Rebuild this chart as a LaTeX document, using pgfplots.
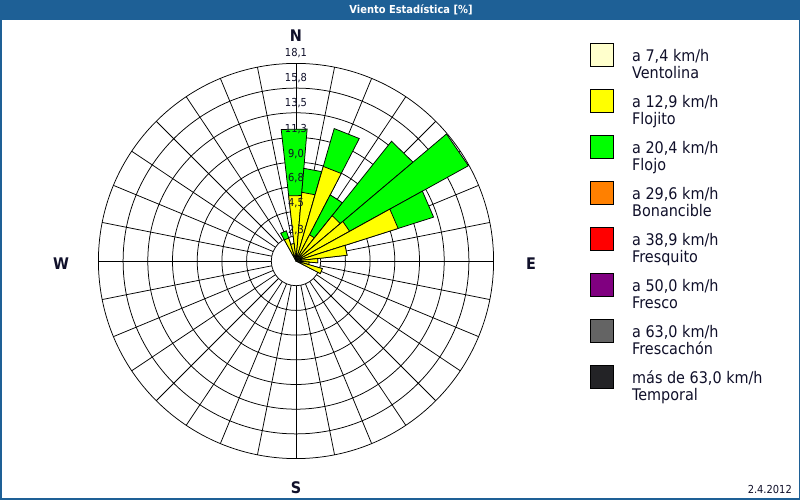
\documentclass[border=0pt]{standalone}
\usepackage{fontspec}
\setmainfont{DejaVu Sans Condensed}
\usepackage{pgfplots}
\usepackage{pgfplotstable}
\pgfplotsset{compat=1.18}

\definecolor{barblue}{HTML}{1E6096}
\definecolor{cVentolina}{HTML}{FFFFCC}
\definecolor{cFlojito}{HTML}{FFFF00}
\definecolor{cFlojo}{HTML}{00FF00}
\definecolor{cBonancible}{HTML}{FF8000}
\definecolor{cFresquito}{HTML}{FF0000}
\definecolor{cFresco}{HTML}{800080}
\definecolor{cFrescachon}{HTML}{646464}
\definecolor{cTemporal}{HTML}{232326}
\definecolor{txt}{HTML}{10102A}

% frequency [%] per direction (bearing, degrees) and speed class
\pgfplotstableread{
dir    ventolina flojito flojo
0      0   6.0  6.1
11.25  0   6.3  2.2
22.5   0   9.0  3.6
33.75  0   2.7  4.1
45     0   5.3  8.7
56.25  0   5.6  12.4
67.5   0   9.8  3.4
78.75  0   4.7  0
90     0   2.0  0
101.25 0   1.2  0
112.5  0   2.5  0
337.5  0   2.2  0.7
348.75 0   1.6  0
}\rosedata

\newcommand{\legfont}{\fontsize{16}{19}\selectfont}
\newcommand{\legentry}[4]{%
  \filldraw[fill=#2, draw=black, line width=0.75pt] (590.5pt,{500pt-#1pt}) rectangle ++(23pt,-23pt);
  \node[anchor=base west, inner sep=0pt, font=\legfont, text=txt] at (632pt,{500pt-#1pt-19pt}) {#3};
  \node[anchor=base west, inner sep=0pt, font=\legfont, text=txt] at (632pt,{500pt-#1pt-36pt}) {#4};
}

\begin{document}
\begin{tikzpicture}
\fill[white] (0pt,0pt) rectangle (800pt,500pt);
% polar grid
\begin{scope}[shift={(296pt,239pt)}]
  \foreach \k in {1,...,8} \draw[line width=0.75pt] (0,0) circle [radius=\k*24.7pt];
  \foreach \a in {0,11.25,...,349} \draw[line width=0.75pt] (\a:24.7pt) -- (\a:197.6pt);
\end{scope}

\begin{axis}[at={(0pt,0pt)}, anchor=south west, scale only axis,
  width=800pt, height=500pt,
  xmin=-27.057, xmax=46.069, ymin=-21.846, ymax=23.857,
  hide axis, clip=false,
  rosebar/.style={data cs=polar, draw=black, line width=0.75pt, mark=none, line join=miter}]
  \pgfplotstablegetrowsof{\rosedata}
  \pgfmathtruncatemacro{\lastrow}{\pgfplotsretval-1}
  \pgfplotsforeachungrouped \i in {0,...,\lastrow}{%
    \pgfplotstablegetelem{\i}{dir}\of\rosedata \let\dirv\pgfplotsretval
    \pgfplotstablegetelem{\i}{ventolina}\of\rosedata \let\vent\pgfplotsretval
    \pgfplotstablegetelem{\i}{flojito}\of\rosedata \let\flojito\pgfplotsretval
    \pgfplotstablegetelem{\i}{flojo}\of\rosedata \let\flojo\pgfplotsretval
    \pgfmathsetmacro{\aL}{90.8-\dirv+5.625}
    \pgfmathsetmacro{\aR}{90.8-\dirv-5.625}
    \pgfmathsetmacro{\rV}{\vent}
    \pgfmathsetmacro{\rY}{\vent+\flojito}
    \pgfmathsetmacro{\rG}{\vent+\flojito+\flojo}
    \edef\temp{%
      \noexpand\addplot[rosebar, fill=cFlojo] coordinates {(0,0) (\aL,\rG) (\aR,\rG)} -- cycle;
      \noexpand\addplot[rosebar, fill=cFlojito] coordinates {(0,0) (\aL,\rY) (\aR,\rY)} -- cycle;
      \noexpand\addplot[rosebar, fill=cVentolina] coordinates {(0,0) (\aL,\rV) (\aR,\rV)} -- cycle;
    }\temp
  }
\end{axis}

% ring labels
\begin{scope}[every node/.style={font=\fontsize{11}{13}\selectfont, text=txt, inner sep=0pt}]
  \node at (296pt,447pt) {18,1};
  \node at (296pt,422pt) {15,8};
  \node at (296pt,397pt) {13,5};
  \node at (296pt,371pt) {11,3};
  \node at (296pt,346pt) {9,0};
  \node at (296pt,322pt) {6,8};
  \node at (296pt,297pt) {4,5};
  \node at (296pt,270pt) {2,3};
\end{scope}

% compass labels
\begin{scope}[every node/.style={font=\fontsize{16}{19}\selectfont\bfseries, text=txt, inner sep=0pt}]
  \node at (296pt,464pt) {N};
  \node at (61pt,236pt) {W};
  \node at (531pt,236pt) {E};
  \node at (296pt,12pt) {S};
\end{scope}

% title bar
\fill[barblue] (0pt,480pt) rectangle (800pt,500pt);
\node[text=white, font=\fontsize{11}{13}\selectfont\bfseries, inner sep=0pt] at (411pt,490pt) {Viento Estadística [\%]};

% legend
\legentry{43}{cVentolina}{a 7,4 km/h}{Ventolina}
\legentry{89}{cFlojito}{a 12,9 km/h}{Flojito}
\legentry{135}{cFlojo}{a 20,4 km/h}{Flojo}
\legentry{181}{cBonancible}{a 29,6 km/h}{Bonancible}
\legentry{227}{cFresquito}{a 38,9 km/h}{Fresquito}
\legentry{273}{cFresco}{a 50,0 km/h}{Fresco}
\legentry{319}{cFrescachon}{a 63,0 km/h}{Frescachón}
\legentry{365}{cTemporal}{más de 63,0 km/h}{Temporal}

% date
\node[anchor=base east, inner sep=0pt, font=\fontsize{11}{13}\selectfont, text=txt] at (792pt,6pt) {2.4.2012};

% frame
\draw[barblue, line width=1.5pt] (0.75pt,0.75pt) rectangle (799.25pt,499.25pt);
\end{tikzpicture}
\end{document}
